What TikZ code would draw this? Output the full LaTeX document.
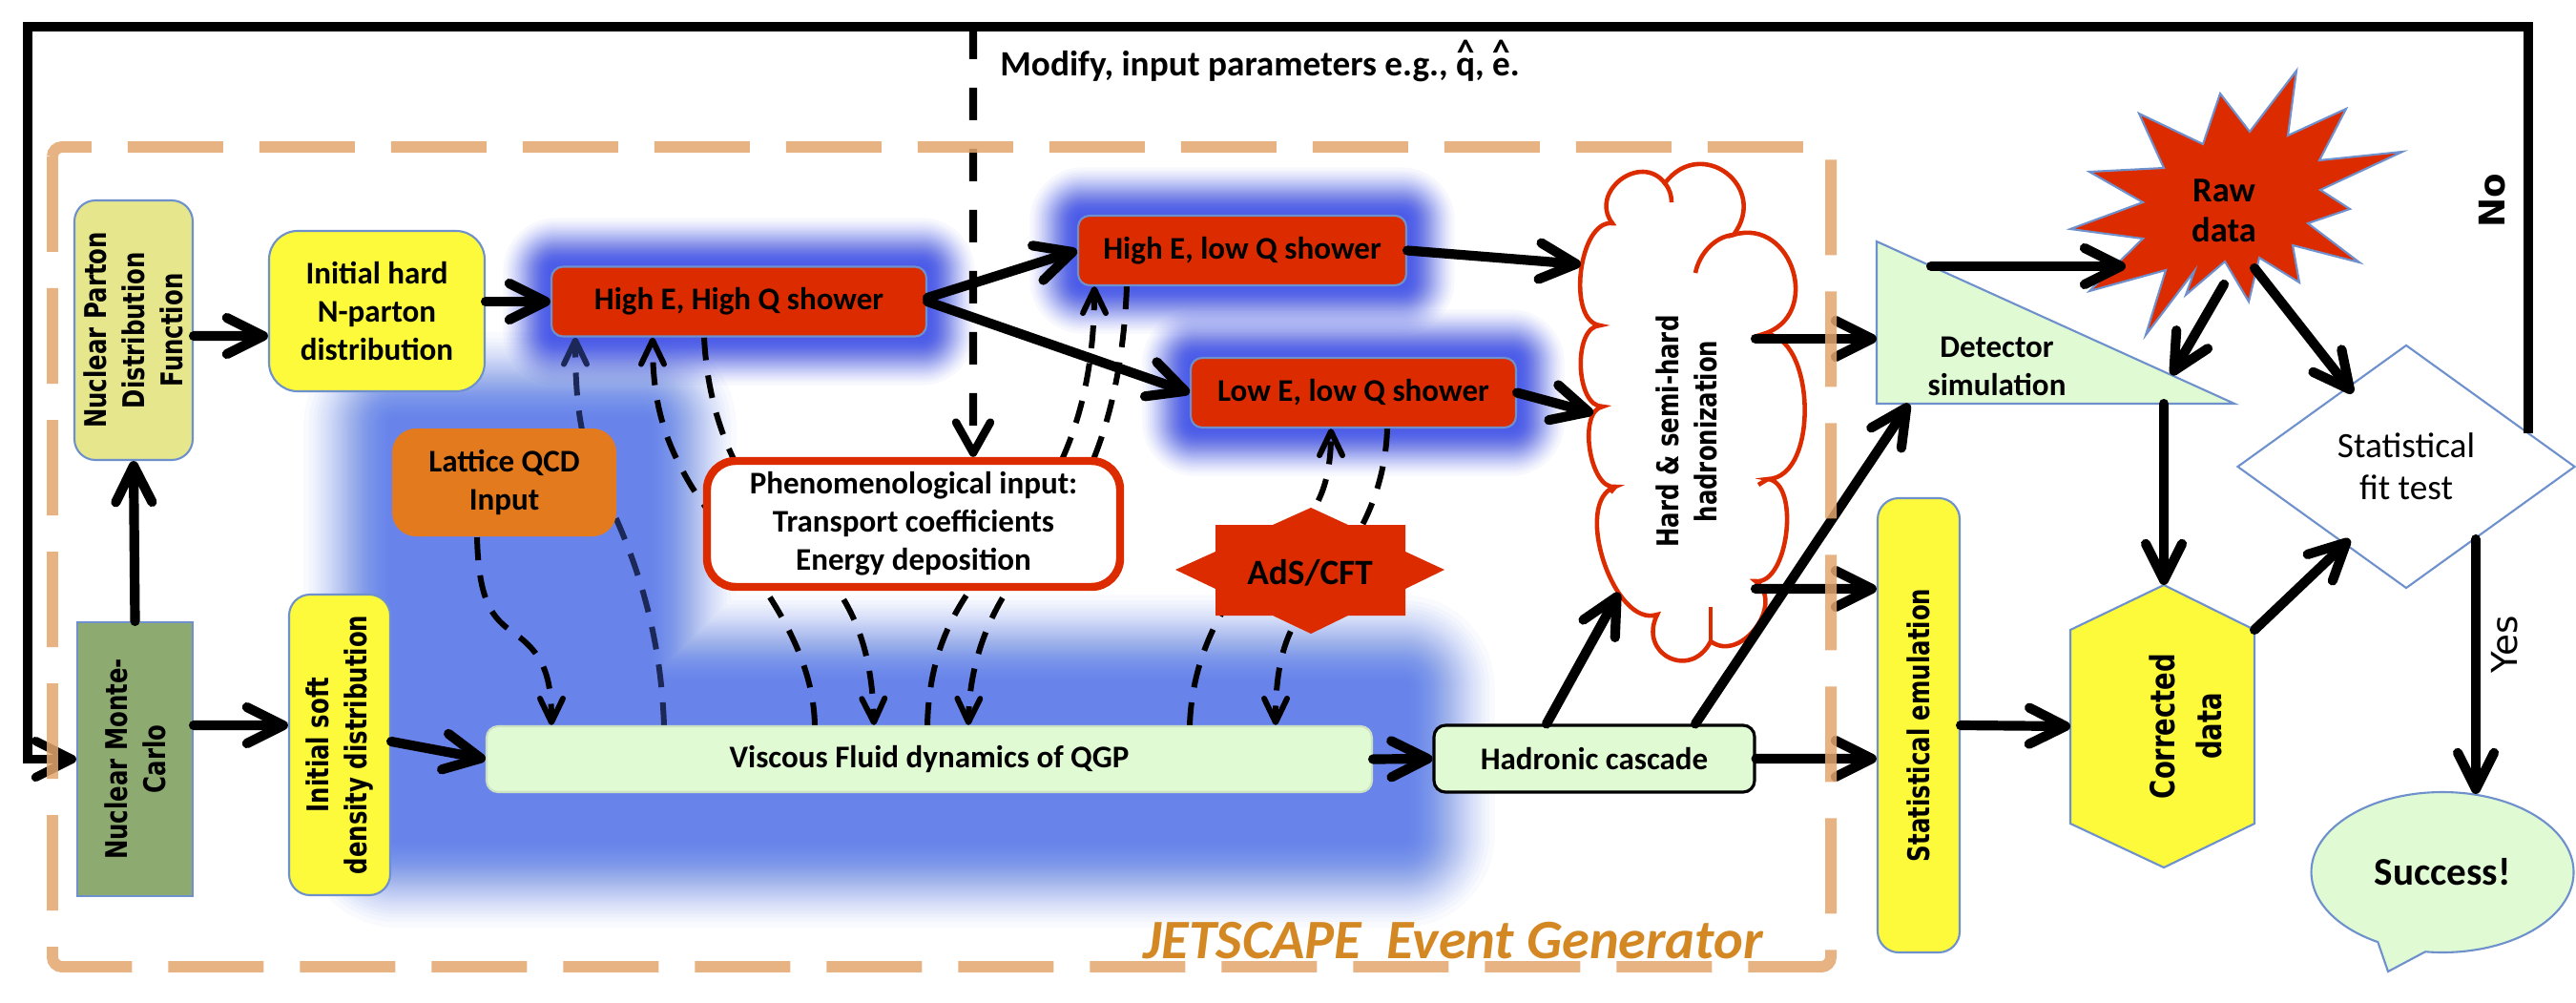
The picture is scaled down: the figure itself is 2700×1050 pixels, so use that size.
\documentclass[tikz,border=0pt]{standalone}
\usepackage{fontspec}
\setmainfont{Carlito}
\newfontfamily\vfont{DejaVu Sans}[FakeStretch=0.78]
\newfontfamily\dvfont{DejaVu Sans}
\usetikzlibrary{arrows.meta,shapes.geometric,shapes.callouts,calc}
\pgfdeclarelayer{bg}
\pgfdeclarelayer{mid}
\pgfsetlayers{bg,mid,main}
\definecolor{redbox}{RGB}{221,43,0}
\definecolor{yel}{RGB}{252,250,58}
\definecolor{khaki}{RGB}{230,230,140}
\definecolor{orng}{RGB}{228,122,30}
\definecolor{grn}{RGB}{141,170,112}
\definecolor{lgrn}{RGB}{224,250,212}
\definecolor{bord}{RGB}{110,145,205}
\definecolor{glowc}{RGB}{66,84,232}
\definecolor{blobc}{RGB}{98,132,234}
\definecolor{framec}{RGB}{229,166,110}
\definecolor{navy}{RGB}{28,40,88}
\definecolor{gold}{RGB}{212,136,36}
\newcommand\hatted[1]{\ooalign{#1\cr\hidewidth\raisebox{0.33em}{\textasciicircum}\hidewidth\cr}}
\newcommand\bump[3]{.. controls ($(#1)!#3!90:(#2)$) and ($(#2)!#3!-90:(#1)$) .. (#2)}
\begin{document}
\begin{tikzpicture}[x=0.1mm,y=-0.1mm,
  font=\bfseries\fontsize{9.4}{11.4}\selectfont,
  every node/.append style={align=center},
  box/.style={draw=bord, line width=0.6pt, inner sep=0pt},
  vlab/.style={font=\vfont\bfseries\fontsize{8.9}{11.4}\selectfont},
  arr/.style={line width=2.9pt, line cap=round, -{Straight Barb[length=3.8mm,width=3.8mm,round]}},
  dsh/.style={line width=1.7pt, dash pattern=on 2.4mm off 1.6mm, -{Straight Barb[length=2.5mm,width=2.4mm,round]}},
  shower/.style={box, fill=redbox, rounded corners=1.2mm, minimum height=7.3mm},
  curl/.style={redbox, line width=1.3pt},
]
\useasboundingbox (0,0) rectangle (2700,1050);

% ---------- background glows (smoothstep fades) ----------
\begin{pgfonlayer}{bg}
\fill[white] (0,0) rectangle (2700,1050);
\foreach \j in {1,...,56}{
  \pgfmathsetmacro\yy{(1-0.96^\j)/0.9}
  \pgfmathsetmacro\tt{0.5-sin(asin(1-2*\yy)/3)}
  \pgfmathsetmacro\ee{105*(1-\tt)}
  \pgfmathsetmacro\rc{0.1*\ee+0.5}
  \fill[blobc, opacity=0.04, rounded corners=\rc mm]
    (410-\ee,440-\ee) rectangle (680+\ee,880+\ee)
    (460-\ee,715-\ee) rectangle (1475+\ee,880+\ee);
}
\foreach \ax/\ay/\bx/\by in {578/279/971/353,1130/226/1474/299,1248/375/1589/448}{
  \foreach \j in {1,...,56}{
    \pgfmathsetmacro\yy{(1-0.96^\j)/0.9}
    \pgfmathsetmacro\tt{0.5-sin(asin(1-2*\yy)/3)}
    \pgfmathsetmacro\ee{58*(1-\tt)}
    \pgfmathsetmacro\rc{0.1*\ee+0.5}
    \fill[glowc, opacity=0.04, rounded corners=\rc mm] (\ax-\ee,\ay-\ee) rectangle (\bx+\ee,\by+\ee);
  }
}
\end{pgfonlayer}

% ---------- nodes ----------
\node[box, fill=khaki, rounded corners=2.2mm, rotate=90, minimum width=27.2mm, minimum height=12.4mm, vlab] (npdf) at (140,346) {Nuclear Parton\\Distribution\\Function};
\node[box, fill=yel, rounded corners=3mm, minimum width=22.6mm, minimum height=16.8mm] (ihard) at (395,326) {Initial hard\\N-parton\\distribution};
\node[shower, minimum width=39.3mm] (hehq) at (774.5,316) {High E, High Q shower};
\node[shower, minimum width=34.4mm] (helq) at (1302,262.5) {High E, low Q shower};
\node[shower, minimum width=34.1mm] (lelq) at (1418.5,411.5) {Low E, low Q shower};
\node[box, fill=orng, draw=none, rounded corners=2.5mm, minimum width=23.5mm, minimum height=11.3mm] (lqcd) at (528.5,505.5) {Lattice QCD\\Input};
\node[box, draw=redbox, line width=2.4pt, fill=white, rounded corners=3mm, minimum width=43.3mm, minimum height=13.2mm] (pheno) at (957.5,549) {Phenomenological input:\\Transport coefficients\\Energy deposition};

\fill[redbox] (1374,532) -- (1413,550) -- (1473,550) -- (1473,578) -- (1514,597) -- (1473,617) -- (1473,645) -- (1413,645) -- (1374,664) -- (1334,645) -- (1274,645) -- (1274,617) -- (1232,597) -- (1274,578) -- (1274,550) -- (1334,550) -- cycle;
\node[font=\bfseries\fontsize{10.6}{12}\selectfont] (ads) at (1373,600) {AdS/CFT};

\node[box, fill=grn, rotate=90, minimum width=28.7mm, minimum height=12.1mm, vlab] (nmc) at (141.5,795.5) {Nuclear Monte-\\Carlo};
\node[box, fill=yel, rounded corners=2.2mm, rotate=90, minimum width=31.5mm, minimum height=10.6mm, vlab] (isoft) at (356,780.5) {Initial soft\\density distribution};
\node[box, fill=lgrn, draw=lgrn!80!gray, rounded corners=1.2mm, minimum width=92.8mm, minimum height=6.9mm] (visc) at (974,795.5) {Viscous Fluid dynamics of QGP};
\node[box, fill=lgrn, draw=black, line width=0.9pt, rounded corners=1.2mm, minimum width=33.6mm, minimum height=7mm] (hadr) at (1671,795) {Hadronic cascade};

% cloud
\coordinate (J1) at (1690,234);
\coordinate (J2) at (1745,192);
\coordinate (J3) at (1817,246);
\coordinate (J4) at (1848,350);
\coordinate (J5) at (1853,502);
\coordinate (J6) at (1840,609);
\coordinate (J7) at (1793,672);
\coordinate (J8) at (1737,644);
\coordinate (J9) at (1693,510);
\coordinate (J10) at (1680,426);
\coordinate (J11) at (1677,341);
\draw[redbox, line width=1.3pt, fill=white] (J1) \bump{J1}{J2}{0.6} \bump{J2}{J3}{0.7} \bump{J3}{J4}{0.6} \bump{J4}{J5}{0.36} \bump{J5}{J6}{0.32} \bump{J6}{J7}{0.5} \bump{J7}{J8}{0.74} \bump{J8}{J9}{0.34} \bump{J9}{J10}{0.32} \bump{J10}{J11}{0.34} \bump{J11}{J1}{0.33} -- cycle;
\draw[curl] (J2) .. controls (1750,198) and (1752,205) .. (1752,212);
\draw[curl] (J3) .. controls (1797,248) and (1781,266) .. (1777,286);
\draw[curl] (J5) -- (1843,508);
\draw[curl] (J7) .. controls (1793,660) and (1793,648) .. (1793,636);
\draw[curl] (J9) -- (1688,516);
\node[vlab, rotate=90] (hadz) at (1768,452) {Hard \& semi-hard\\hadronization};

\filldraw[fill=lgrn, draw=bord, line width=0.6pt] (1967,253) -- (1967,423) -- (2342,423) -- cycle;
\node (det) at (2093,384) {Detector\\simulation};

\filldraw[fill=redbox, draw=bord, line width=0.6pt] (2407,74) -- (2398,142) -- (2459,114) -- (2431,168) -- (2518,159) -- (2432,199) -- (2463,219) -- (2419,234) -- (2473,275) -- (2403,257) -- (2410,296) -- (2368,270) -- (2357,316) -- (2332,274) -- (2291,309) -- (2300,284) -- (2249,351) -- (2270,283) -- (2190,305) -- (2246,250) -- (2170,240) -- (2246,212) -- (2190,180) -- (2268,176) -- (2242,119) -- (2309,151) -- (2327,98) -- (2358,138) -- cycle;
\node[font=\bfseries\fontsize{10.4}{12}\selectfont] (raw) at (2331,221) {Raw\\data};

\node[box, fill=yel, rounded corners=2.2mm, rotate=90, minimum width=47.6mm, minimum height=8.6mm, vlab] (statem) at (2011,760) {Statistical emulation};

\filldraw[fill=yel, draw=bord, line width=0.6pt] (2268,613) -- (2363,660) -- (2363,863) -- (2268,909) -- (2170,863) -- (2170,660) -- cycle;
\node[rotate=90, font=\vfont\bfseries\fontsize{10}{14}\selectfont] (corr) at (2291,761) {Corrected\\data};

\node[diamond, draw=bord, fill=white, line width=0.6pt, minimum width=35.4mm, minimum height=25.5mm, inner sep=0pt, font=\mdseries\fontsize{10.6}{12.5}\selectfont] (fit) at (2522,489) {Statistical\\fit test};

\node[ellipse callout, draw=bord, fill=lgrn, line width=0.6pt, minimum width=27.5mm, minimum height=16.8mm, callout absolute pointer={(2503,1018)}, callout pointer arc=22, font=\bfseries\fontsize{11.7}{13}\selectfont] (succ) at (2560,914) {Success!};

\node[rotate=90, font=\dvfont\bfseries\fontsize{10.6}{12}\selectfont] (no) at (2612,210) {No};
\node[rotate=90, font=\dvfont\fontsize{10.6}{12}\selectfont] (yes) at (2625,675) {Yes};
\node[anchor=west, font=\bfseries\fontsize{10.6}{12}\selectfont] (mod) at (1036,70) {Modify, input parameters e.g., \hatted{q}, \hatted{e}.};

% ---------- dashed couplings (behind boxes) ----------
\begin{pgfonlayer}{mid}
\draw[dsh] ([xshift=-2.85mm]lqcd.south) .. controls (502,640) and (520,650) .. (545,668) .. controls (570,688) and (578,710) .. ([xshift=-39.6mm]visc.north);
\draw[dsh, navy] ([xshift=-27.8mm]visc.north) .. controls (692,650) and (660,570) .. (630,510) .. controls (608,465) and (603,420) .. ([xshift=-17.15mm]hehq.south);
\draw[dsh] ([xshift=-12mm]visc.north) .. controls (852,660) and (770,580) .. (725,510) .. controls (695,460) and (684,420) .. ([xshift=-9.05mm]hehq.south);
\draw[dsh] ([xshift=-3.65mm]hehq.south) .. controls (743,450) and (780,520) .. (840,575) .. controls (895,625) and (914,680) .. ([xshift=-5.8mm]visc.north);
\draw[dsh] ([xshift=-0.2mm]visc.north) .. controls (974,670) and (1010,620) .. (1060,565) .. controls (1115,500) and (1147,420) .. ([xshift=-15.5mm]helq.south);
\draw[dsh] ([xshift=-12.1mm]helq.south) .. controls (1176,430) and (1140,520) .. (1085,580) .. controls (1040,630) and (1016,690) .. ([xshift=4.1mm]visc.north);
\draw[dsh] ([xshift=27.3mm]visc.north) .. controls (1250,670) and (1300,600) .. (1350,565) .. controls (1385,535) and (1395,500) .. ([xshift=-2.35mm]lelq.south);
\draw[dsh] ([xshift=3.55mm]lelq.south) .. controls (1451,540) and (1400,595) .. (1372,630) .. controls (1345,665) and (1337,700) .. ([xshift=36.3mm]visc.north);
\end{pgfonlayer}

% ---------- coordinates on drawn shapes ----------
\coordinate (cA) at (1657,277);
\coordinate (cB) at (1670,433);
\coordinate (cC) at (1697,621);
\coordinate (cD) at (1840,355);
\coordinate (cE) at (1840,617);
\coordinate (detL) at (1967,355);
\coordinate (detB1) at (2001,423);
\coordinate (detB2) at (2268,423);
\coordinate (detH1) at (2024,279);
\coordinate (detH2) at (2276,393);
\coordinate (rawL) at (2228,279);
\coordinate (rawB1) at (2331,298);
\coordinate (rawB2) at (2363,281);
\coordinate (fitT) at (2466,412);
\coordinate (fitBL) at (2463,565);
\coordinate (fitBR) at (2595,565);
\coordinate (fitR) at (2650,454);
\coordinate (corrT) at (2268,613);
\coordinate (corrL) at (2170,761);
\coordinate (corrUR) at (2363,660);
\coordinate (succT) at (2595,832);
\coordinate (loopA) at (2650,28);
\coordinate (loopB) at (29,28);
\coordinate (loopC) at (29,795.5);
\coordinate (modT) at (1020,28);

% ---------- solid connectors ----------
\draw[arr] (nmc.east) -- (npdf.west);
\draw[arr] ([yshift=-0.6mm]npdf.south) -- ([yshift=-2.6mm]ihard.west);
\draw[arr] (ihard.east |- hehq.west) -- (hehq.west);
\draw[arr] ([yshift=0.4mm]hehq.east) -- (helq.west);
\draw[arr] (hehq.east) -- (lelq.west);
\draw[arr] (helq.east) -- (cA);
\draw[arr] (lelq.east) -- (cB);
\draw[arr] ([yshift=3.55mm]nmc.south) -- ([yshift=2.05mm]isoft.north);
\draw[arr] ([yshift=0.35mm]isoft.south) -- (visc.west);
\draw[arr] (visc.east) -- (hadr.west);
\draw[arr] ([xshift=-5mm]hadr.north) -- (cC);
\draw[arr] ([xshift=10.6mm]hadr.north) -- (detB1);
\draw[arr] (hadr.east) -- ([yshift=-3.5mm]statem.north);
\draw[arr] (cD) -- (detL);
\draw[arr] (cE) -- ([yshift=14.3mm]statem.north);
\draw[arr] (detH1) -- (rawL);
\draw[arr] (rawB1) -- (detH2);
\draw[arr] (rawB2) -- (fitT);
\draw[arr] (detB2) -- (corrT);
\draw[arr] (statem.south) -- (corrL);
\draw[arr] (corrUR) -- (fitBL);
\draw[arr] (fitBR) -- (succT);
\draw[line width=2.6pt, -{Straight Barb[length=3.8mm,width=3.8mm,round]}] (fitR) -- (loopA) -- (loopB) -- (loopC) -- (nmc.north);
\draw[line width=2.4pt, dash pattern=on 3.4mm off 3mm, -{Straight Barb[length=3.2mm,width=3.6mm,round]}] (modT) -- ([xshift=6.25mm]pheno.north);

% ---------- event generator frame ----------
\draw[framec, opacity=0.85, line width=3.4pt, dash pattern=on 10mm off 3.8mm, rounded corners=1mm] (55,154) rectangle (1919,1013);
\node[font=\bfseries\itshape\fontsize{16.6}{18}\selectfont, text=gold] (jet) at (1523,986) {JETSCAPE\ \ Event Generator};
\end{tikzpicture}
\end{document}
